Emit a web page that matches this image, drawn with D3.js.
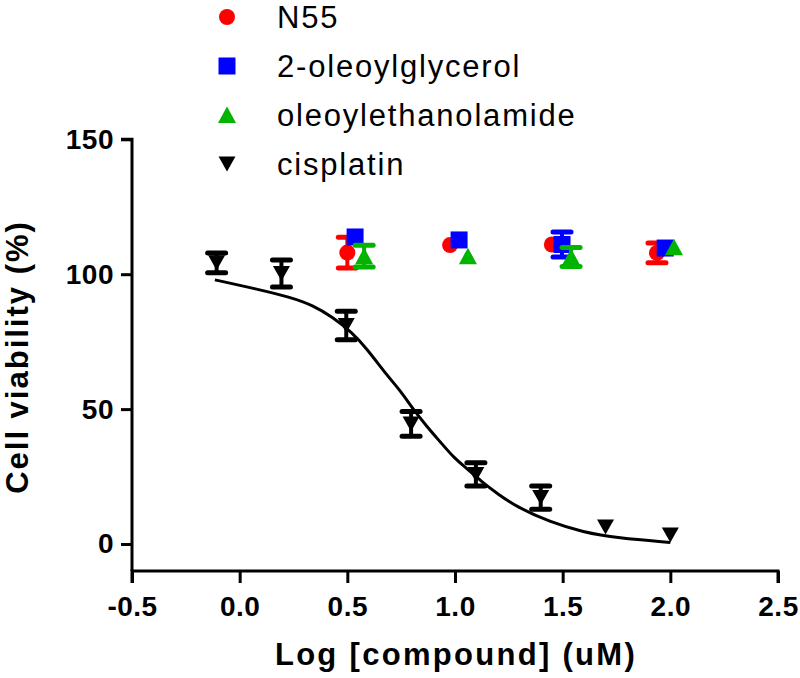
<!DOCTYPE html>
<html><head><meta charset="utf-8">
<script src="https://cdn.jsdelivr.net/npm/d3@7"></script>
<style>
body{margin:0;background:#fff}
svg{display:block}
text{font-family:"Liberation Sans",Arial,Helvetica,sans-serif;fill:#000}
</style>
</head><body>
<svg id="chart" width="800" height="678"></svg>
<script>
// ---------- data ----------
const seriesNames = ["N55", "2-oleoylglycerol", "oleoylethanolamide", "cisplatin"];
const seriesColors = ["#ff0000", "#0000ff", "#00b400", "#000000"];
const seriesShapes = ["circle", "square", "triangleUp", "triangleDown"];

const n55X   = [0.500, 0.977, 1.450, 1.938];
const n55Y   = [108.0, 110.8, 111.0, 107.9];
const n55Err = [5.7, 0, 0, 3.7];

const ogX   = [0.536, 1.019, 1.497, 1.976];
const ogY   = [113.8, 112.7, 111.0, 109.7];
const ogErr = [0, 0, 4.6, 0];

const oeaX   = [0.578, 1.060, 1.539, 2.017];
const oeaY   = [106.7, 106.7, 106.4, 110.0];
const oeaErr = [4.0, 0, 3.5, 0];

const cisX   = [-0.107, 0.194, 0.495, 0.796, 1.097, 1.398, 1.699, 2.000];
const cisY   = [104.2, 100.3, 81.0, 44.5, 25.8, 17.2, 6.3, 3.3];
const cisErr = [3.7, 5.0, 5.3, 4.6, 4.3, 4.3, 0, 0];

// fitted curve for cisplatin
const fitX = [-0.115, 0.08, 0.234, 0.34, 0.433, 0.52, 0.59, 0.684, 0.745, 0.805, 0.87, 0.93, 1.0, 1.056, 1.13, 1.2, 1.288, 1.44, 1.595, 1.753, 2.0];
const fitY = [97.9, 94.5, 91.5, 88.5, 84.0, 78.5, 72.5, 62.5, 57.0, 50.0, 43.5, 38.0, 31.5, 28.0, 22.6, 18.5, 13.7, 8.2, 4.4, 2.2, 0.6];

const xTicks = [-0.5, 0.0, 0.5, 1.0, 1.5, 2.0, 2.5];
const yTicks = [0, 50, 100, 150];
const xTitle = "Log [compound] (uM)";
const yTitle = "Cell viability (%)";

// ---------- build ----------
const seriesData = [
  {xs: n55X, ys: n55Y, es: n55Err},
  {xs: ogX, ys: ogY, es: ogErr},
  {xs: oeaX, ys: oeaY, es: oeaErr},
  {xs: cisX, ys: cisY, es: cisErr}
].map((s, i) => ({
  name: seriesNames[i], color: seriesColors[i], shape: seriesShapes[i],
  points: s.xs.map((x, j) => ({x, y: s.ys[j], e: s.es[j]}))
}));

const svg = d3.select("#chart");
const x = d3.scaleLinear().domain([-0.5, 2.5]).range([132, 778]);
const y = d3.scaleLinear().domain([-10, 150]).range([571, 139.3]);

function shapePath(shape) {
  switch (shape) {
    case "circle": return "M8,0A8,8 0 1,1 -8,0A8,8 0 1,1 8,0Z";
    case "square": return "M-8.5,-8.5H8.5V8.5H-8.5Z";
    case "triangleUp": return "M0,-8.5L9,8L-9,8Z";
    case "triangleDown": return "M-8.5,-7.5L8.5,-7.5L0,7.5Z";
  }
}

const fmtX = d => d3.format(".1f")(d).replace("\u2212", "-");

// axes
const yAxis = d3.axisLeft(y).tickValues(yTicks).tickSize(11).tickPadding(7).tickFormat(d3.format("d"));
const gy = svg.append("g").attr("transform", `translate(${x(-0.5)},0)`).call(yAxis);
gy.select(".domain").attr("d", `M-11,${y(150)}H0V${y(-10)}`).attr("stroke-width", 3);
gy.selectAll(".tick line").attr("stroke-width", 3);
gy.selectAll(".tick text").attr("font-size", 28).attr("font-weight", "bold")
  .attr("font-family", '"Liberation Sans",Arial,sans-serif').attr("letter-spacing", 0.5);

const xAxis = d3.axisBottom(x).tickValues(xTicks).tickSize(12).tickPadding(13).tickFormat(fmtX);
const gx = svg.append("g").attr("transform", `translate(0,${y(-10)})`).call(xAxis);
gx.select(".domain").attr("d", `M${x(-0.5)},12V0H${x(2.5)}V12`).attr("stroke-width", 3);
gx.selectAll(".tick line").attr("stroke-width", 3);
gx.selectAll(".tick text").attr("font-size", 28).attr("font-weight", "bold")
  .attr("font-family", '"Liberation Sans",Arial,sans-serif').attr("letter-spacing", 0.5);

// titles
svg.append("text").attr("x", (x(-0.5) + x(2.5)) / 2 + 1).attr("y", 665)
  .attr("text-anchor", "middle").attr("font-size", 31).attr("font-weight", "bold")
  .attr("letter-spacing", 2.3).text(xTitle);
svg.append("text").attr("transform", `translate(28,${357}) rotate(-90)`)
  .attr("text-anchor", "middle").attr("font-size", 31).attr("font-weight", "bold")
  .attr("letter-spacing", 2.0).text(yTitle);

// fitted curve
const line = d3.line().x((d, i) => x(fitX[i])).y((d, i) => y(fitY[i])).curve(d3.curveBasis);
svg.append("path").datum(fitX).attr("d", line)
  .attr("fill", "none").attr("stroke", "#000").attr("stroke-width", 3);

// series with error bars
seriesData.forEach(s => {
  const g = svg.append("g");
  const eb = g.selectAll(".eb").data(s.points.filter(d => d.e > 0)).join("g").attr("class", "eb");
  eb.append("line")
    .attr("x1", d => x(d.x)).attr("x2", d => x(d.x))
    .attr("y1", d => y(d.y + d.e)).attr("y2", d => y(d.y - d.e))
    .attr("stroke", s.color).attr("stroke-width", 4);
  [1, -1].forEach(sg => {
    eb.append("line")
      .attr("x1", d => x(d.x) - 9).attr("x2", d => x(d.x) + 9)
      .attr("y1", d => y(d.y + sg * d.e)).attr("y2", d => y(d.y + sg * d.e))
      .attr("stroke", s.color).attr("stroke-width", 5).attr("stroke-linecap", "round");
  });
  g.selectAll(".mk").data(s.points).join("path").attr("class", "mk")
    .attr("transform", d => `translate(${x(d.x)},${y(d.y)})`)
    .attr("d", shapePath(s.shape)).attr("fill", s.color);
});

// legend
const lg = svg.append("g");
seriesData.forEach((s, i) => {
  const cy = 17 + i * 49;
  lg.append("path").attr("transform", `translate(227,${cy})`)
    .attr("d", shapePath(s.shape)).attr("fill", s.color);
  lg.append("text").attr("x", 277).attr("y", cy + 11)
    .attr("font-size", 31).attr("letter-spacing", 1.8).text(s.name);
});
</script>
</body></html>
